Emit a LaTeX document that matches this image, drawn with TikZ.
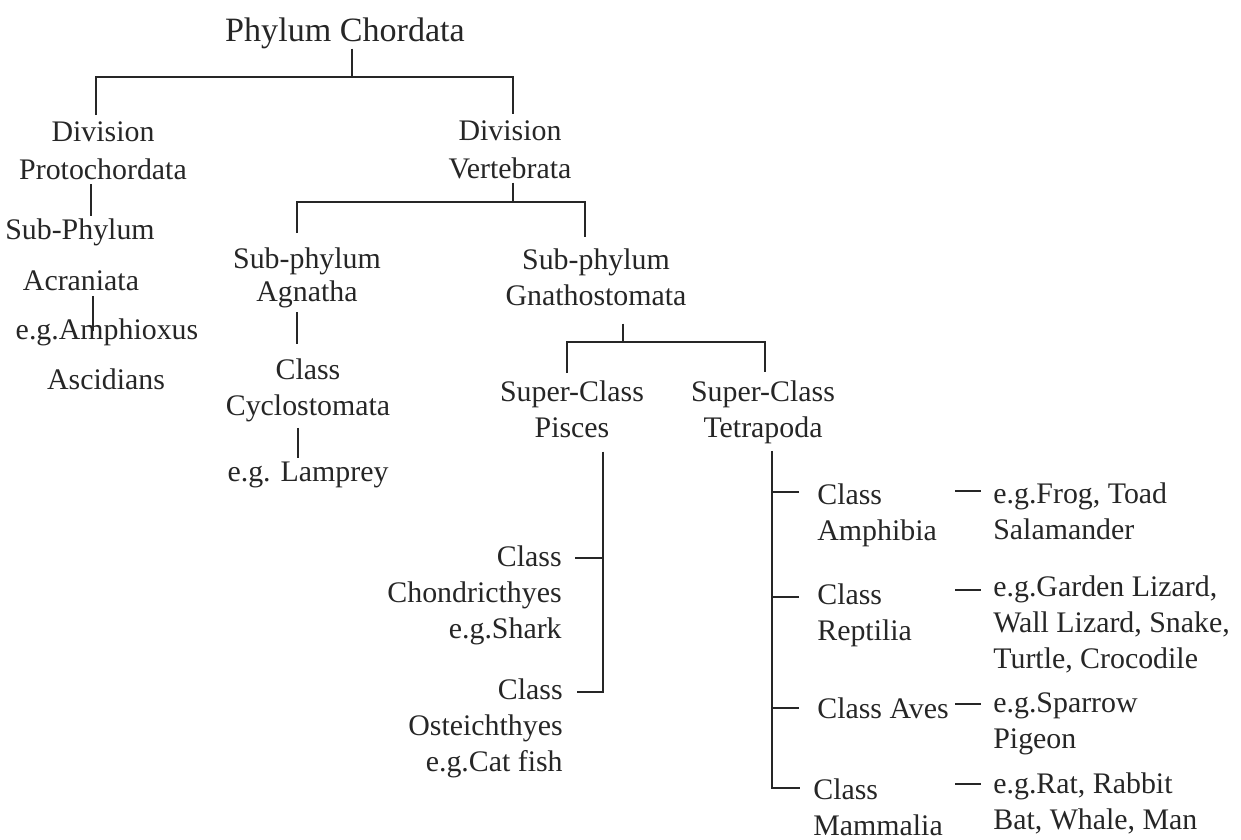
\documentclass[tikz,border=0pt]{standalone}
\usepackage{fontspec}
\setmainfont{Liberation Serif}
\usetikzlibrary{calc}

\tikzset{
  taxon/.style={inner sep=0pt, align=center, anchor=north, text=black!85,
    font=\fontsize{17}{20.5}\selectfont},
  taxonR/.style={taxon, align=right, anchor=north east},
  taxonL/.style={taxon, align=left, anchor=north west},
  branch/.style={line width=1.1pt, draw=black!85},
}

\begin{document}
\begin{tikzpicture}[x=0.02cm, y=-0.02cm]
\useasboundingbox (0,0) rectangle (1241,839);

% phylum and divisions
\node[taxon, font=\fontsize{19.4}{23}\selectfont] (chordata) at (345,17) {Phylum Chordata};
\node[taxon, font=\fontsize{17}{22}\selectfont] (protoch) at (103,121) {Division\\Protochordata};
\node[taxon, font=\fontsize{17}{22}\selectfont] (vertebr) at (510,120) {Division\\Vertebrata};

\coordinate (jchord) at (352,77);
\draw[branch] (chordata.south -| jchord) -- (jchord);
\draw[branch] ($(protoch.north)+(-7,-6)$) |- (jchord) -| ($(vertebr.north)+(3,-6)$);

% protochordata
\node[taxon] (subphyl) at (80,218) {Sub-Phylum};
\node[taxon] (acran) at (81,270) {Acraniata};
\node[taxon] (amphi) at (107,318) {e.g.Amphioxus};
\node[taxon] (ascid) at (106,368) {Ascidians};

\draw[branch] ($(protoch.south)+(-12,4)$) -- ++(0,32);
\draw[branch] ($(acran.south)+(12,5)$) -- ++(0,35);

% vertebrata
\node[taxon, font=\fontsize{17}{19}\selectfont] (agnatha) at (307,247) {Sub-phylum\\Agnatha};
\node[taxon] (gnatho) at (596,248) {Sub-phylum\\Gnathostomata};

\coordinate (jvert) at (513,202);
\draw[branch] ($(vertebr.south -| jvert)+(0,3)$) -- (jvert);
\draw[branch] ($(agnatha.north)+(-10,-14)$) |- (jvert) -| ($(gnatho.north)+(-11,-11)$);

% agnatha
\node[taxon] (cyclo) at (308,358) {Class\\Cyclostomata};
\node[taxon] (lamprey) at (308,462) {e.g. Lamprey};

\draw[branch] ($(agnatha.south)+(-10,4)$) -- ++(0,32);
\draw[branch] ($(cyclo.south)+(-10,6)$) -- ++(0,30);

% gnathostomata
\node[taxon] (pisces) at (572,380) {Super-Class\\Pisces};
\node[taxon] (tetra) at (763,380) {Super-Class\\Tetrapoda};

\coordinate (jgnath) at (623,342);
\draw[branch] ($(gnatho.south -| jgnath)+(0,18)$) -- (jgnath);
\draw[branch] ($(pisces.north)+(-5,-7)$) |- (jgnath) -| ($(tetra.north)+(2,-8)$);

% pisces
\node[taxonR] (chondr) at (562,545) {Class\\Chondricthyes\\e.g.Shark};
\node[taxonR] (osteich) at (563,678) {Class\\Osteichthyes\\e.g.Cat fish};

\coordinate (pstem) at ($(pisces.south)+(31,14)$);
\draw[branch] (pstem) |- ($(osteich.north east)+(14,14)$);
\draw[branch] ($(chondr.north east)+(13,13)$) -- ++(28,0);

% tetrapoda
\node[taxonL] (amphib) at (817,483) {Class\\Amphibia};
\node[taxonL] (reptil) at (817,583) {Class\\Reptilia};
\node[taxonL] (aves) at (817,697) {Class Aves};
\node[taxonL] (mammal) at (813,778) {Class\\Mammalia};

\coordinate (tstem) at ($(tetra.south)+(9,7)$);
\draw[branch] (tstem) |- ($(mammal.north west)+(-13,10)$);
\foreach \cls/\dy in {amphib/9, reptil/14, aves/11}
  \draw[branch] ($(\cls.north west)+(-18,\dy)$) -- ++(-27,0);

% examples
\node[taxonL] (frog) at (993,482) {e.g.Frog, Toad\\Salamander};
\node[taxonL] (lizard) at (993,575) {e.g.Garden Lizard,\\Wall Lizard, Snake,\\Turtle, Crocodile};
\node[taxonL] (sparrow) at (993,692) {e.g.Sparrow\\Pigeon};
\node[taxonL] (rat) at (993,772) {e.g.Rat, Rabbit\\Bat, Whale, Man};

\foreach \ex/\dy in {frog/9, lizard/15, sparrow/12, rat/12}
  \draw[branch] ($(\ex.north west)+(-38,\dy)$) -- ++(26,0);

\end{tikzpicture}
\end{document}
